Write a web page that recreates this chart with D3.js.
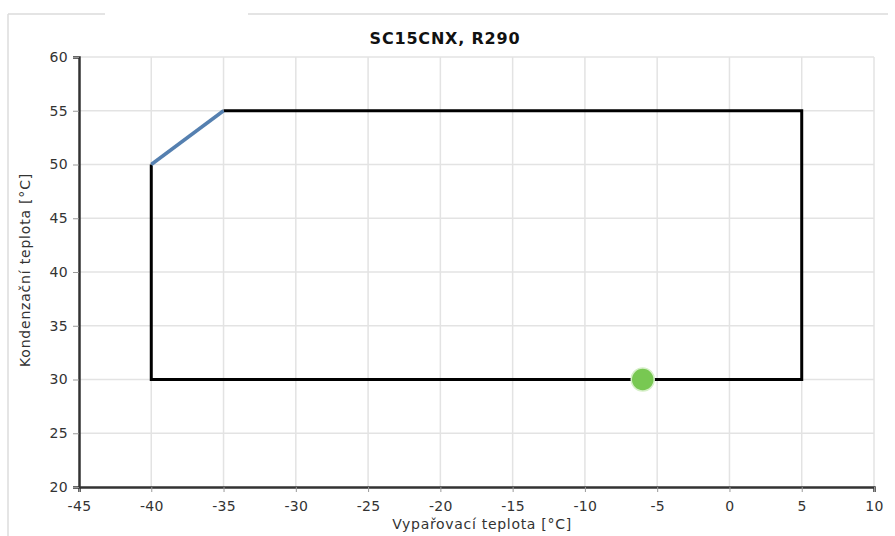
<!DOCTYPE html>
<html><head><meta charset="utf-8">
<script src="https://cdn.jsdelivr.net/npm/d3@7"></script>
<style>body{margin:0;background:#fff;} text{font-family:"DejaVu Sans",Verdana,sans-serif;}</style>
</head><body>
<svg id="c" width="895" height="536"></svg>
<script>
const title = "SC15CNX, R290";
const xLabel = "Vypařovací teplota [°C]";
const yLabel = "Kondenzační teplota [°C]";
const xTicks = [-45,-40,-35,-30,-25,-20,-15,-10,-5,0,5,10];
const yTicks = [20,25,30,35,40,45,50,55,60];
const envelopeX = [-35,5,5,-40,-40];
const envelopeY = [55,55,30,30,50];
const slopeX = [-40,-35];
const slopeY = [50,55];
const pointX = [-6];
const pointY = [30];

const svg = d3.select("#c");
const x = d3.scaleLinear().domain([-45,10]).range([79,874]);
const y = d3.scaleLinear().domain([20,60]).range([487,57]);

// outer frame
svg.append("path").attr("d","M8,14H105M248,14H888").attr("stroke","#dcdcdc").attr("stroke-width",1.5).attr("fill","none");
svg.append("line").attr("x1",8).attr("x2",8).attr("y1",14).attr("y2",536).attr("stroke","#dcdcdc").attr("stroke-width",1.5);

// grid
const g = svg.append("g");
g.selectAll(".gx").data(xTicks.slice(1)).join("line")
 .attr("x1",d=>x(d)).attr("x2",d=>x(d)).attr("y1",y(60)).attr("y2",y(20))
 .attr("stroke","#e3e3e3").attr("stroke-width",1.5);
g.selectAll(".gy").data(yTicks.slice(1)).join("line")
 .attr("x1",x(-45)).attr("x2",x(10)).attr("y1",d=>y(d)).attr("y2",d=>y(d))
 .attr("stroke","#e3e3e3").attr("stroke-width",1.5);

// axes
const fmt = d => String(d);
const xa = svg.append("g").attr("transform",`translate(0,${y(20)})`)
 .call(d3.axisBottom(x).tickValues(xTicks).tickSize(5).tickPadding(6).tickFormat(fmt));
const ya = svg.append("g").attr("transform",`translate(${x(-45)},0)`)
 .call(d3.axisLeft(y).tickValues(yTicks).tickSize(6).tickPadding(5).tickFormat(fmt));
[xa,ya].forEach(a=>{
  a.select(".domain").attr("stroke","#333").attr("stroke-width",2.5);
  a.selectAll(".tick line").attr("stroke","#999").attr("stroke-width",1);
  a.selectAll(".tick text").attr("fill","#333").style("font-size","14px").style("letter-spacing","0.3px").style("font-family","'DejaVu Sans',Verdana,sans-serif");
});
xa.selectAll(".tick text").attr("dy","0.95em");

// envelope
const line = d3.line().x(d=>x(d[0])).y(d=>y(d[1]));
svg.append("path").datum(envelopeX.map((v,i)=>[v,envelopeY[i]]))
 .attr("d",line).attr("fill","none").attr("stroke","#000").attr("stroke-width",3).attr("stroke-linejoin","miter");
svg.append("path").datum(slopeX.map((v,i)=>[v,slopeY[i]]))
 .attr("d",line).attr("fill","none").attr("stroke","#5580b0").attr("stroke-width",3.5);

// point
svg.selectAll(".pt").data(pointX.map((v,i)=>[v,pointY[i]])).join("circle")
 .attr("cx",d=>x(d[0])).attr("cy",d=>y(d[1])).attr("r",11.5)
 .attr("fill","#78c852").attr("stroke","#d6efc8").attr("stroke-width",1.5);

// titles
svg.append("text").attr("x",445).attr("y",44).attr("text-anchor","middle")
 .style("font-size","16px").style("font-weight","bold").style("letter-spacing","0.8px").attr("fill","#111").text(title);
svg.append("text").attr("x",482).attr("y",529).attr("text-anchor","middle")
 .style("font-size","14px").style("letter-spacing","0.7px").attr("fill","#333").text(xLabel);
svg.append("text").attr("transform","translate(30,270) rotate(-90)").attr("text-anchor","middle")
 .style("font-size","14px").style("letter-spacing","0.8px").attr("fill","#333").text(yLabel);
</script>
</body></html>
